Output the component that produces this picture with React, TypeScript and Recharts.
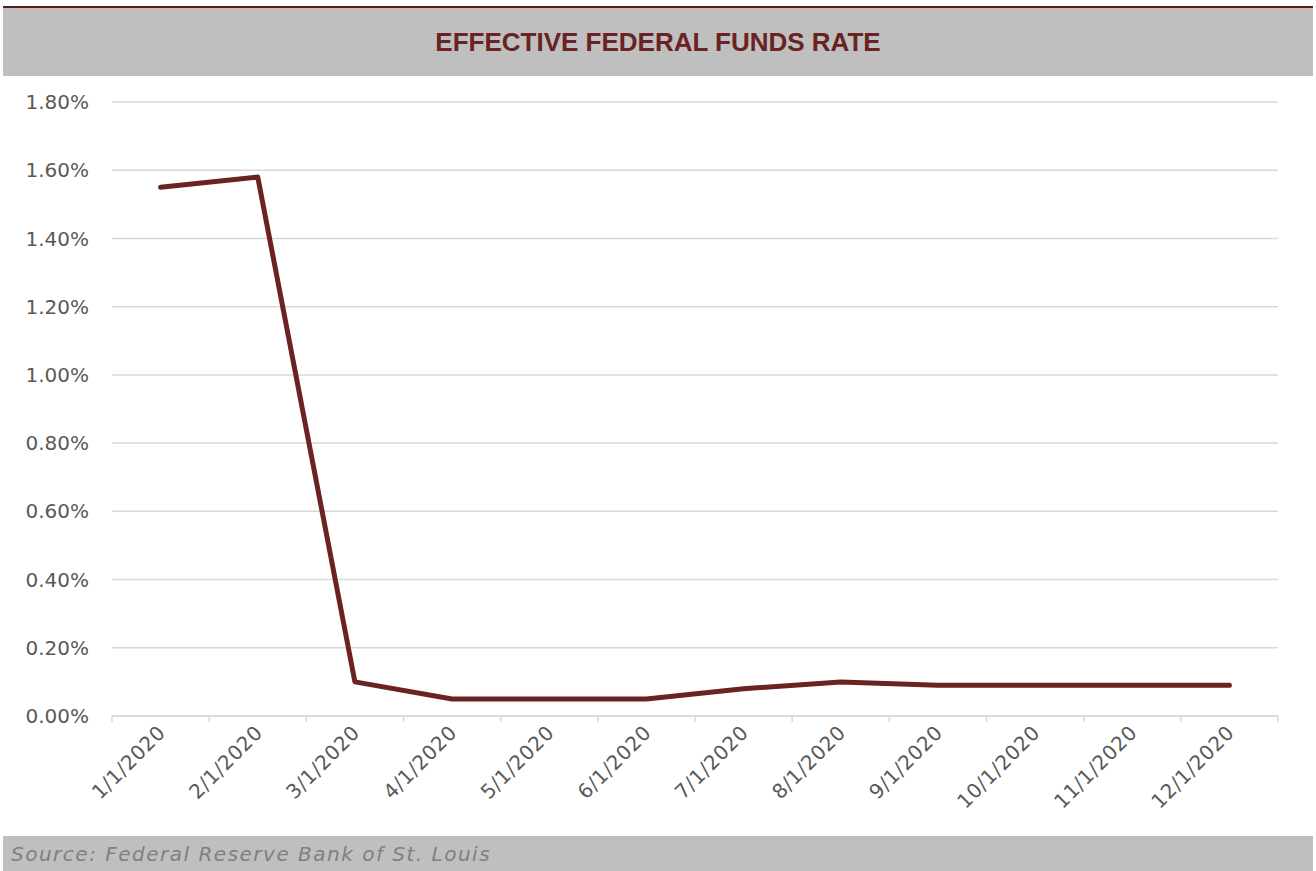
import { LineChart, Line, XAxis, YAxis, CartesianGrid } from "recharts";

const MONTHS = [
  "1/1/2020",
  "2/1/2020",
  "3/1/2020",
  "4/1/2020",
  "5/1/2020",
  "6/1/2020",
  "7/1/2020",
  "8/1/2020",
  "9/1/2020",
  "10/1/2020",
  "11/1/2020",
  "12/1/2020",
];

// effective rate in percent
const RATES = [1.55, 1.58, 0.1, 0.05, 0.05, 0.05, 0.08, 0.1, 0.09, 0.09, 0.09, 0.09];

const Y_TICKS = [0, 0.2, 0.4, 0.6, 0.8, 1.0, 1.2, 1.4, 1.6, 1.8];

const data = MONTHS.map((month, i) => ({ month, rate: RATES[i] }));

const LABEL_FONT = "'DejaVu Sans', sans-serif";
const MAROON = "#6b2222";
const GRID = "#d9d9d9";
const HALF_BAND = 1166 / MONTHS.length / 2;

interface TickProps {
  x?: number;
  y?: number;
  index?: number;
  payload?: { value: string };
}

// label plus the small marks on the category boundaries (Excel style)
function MonthTick({ x = 0, y = 0, index = 0, payload }: TickProps) {
  const tx = x + 6;
  const ty = y + 10;
  const last = index === MONTHS.length - 1;
  return (
    <g>
      <line x1={x - HALF_BAND} x2={x - HALF_BAND} y1={y - 8} y2={y - 2} stroke={GRID} strokeWidth={1.5} />
      {last && (
        <line x1={x + HALF_BAND} x2={x + HALF_BAND} y1={y - 8} y2={y - 2} stroke={GRID} strokeWidth={1.5} />
      )}
      <text
        x={tx}
        y={ty}
        transform={`rotate(-45, ${tx}, ${ty})`}
        textAnchor="end"
        fontSize={20}
        letterSpacing={0.5}
        fontFamily={LABEL_FONT}
        fill="#595959"
      >
        {payload?.value}
      </text>
    </g>
  );
}

export default function App() {
  return (
    <div
      style={{
        position: "absolute",
        left: 0,
        top: 0,
        width: 1316,
        height: 871,
        background: "#fff",
        overflow: "hidden",
      }}
    >
      <div
        style={{
          position: "absolute",
          left: 3,
          top: 6,
          width: 1310,
          height: 3,
          background: "#5c1c1c",
        }}
      />
      <div
        style={{
          position: "absolute",
          left: 3,
          top: 8,
          width: 1310,
          height: 68,
          background: "#bfbfbf",
          display: "flex",
          alignItems: "center",
          justifyContent: "center",
          color: MAROON,
          fontFamily: "'Liberation Sans Narrow', 'Arial Narrow', sans-serif",
          fontWeight: 700,
          fontSize: 26,
        }}
      >
        EFFECTIVE FEDERAL FUNDS RATE
      </div>

      <div style={{ position: "absolute", left: 0, top: 0 }}>
        <LineChart
          width={1316}
          height={836}
          data={data}
          margin={{ top: 102, right: 38, left: 12, bottom: 10 }}
        >
          <CartesianGrid vertical={false} stroke={GRID} strokeWidth={1.5} />
          <XAxis
            dataKey="month"
            interval={0}
            height={110}
            stroke={GRID}
            strokeWidth={1.5}
            tickLine={false}
            padding={{ left: HALF_BAND, right: HALF_BAND }}
            tick={<MonthTick />}
          />
          <YAxis
            width={100}
            domain={[0, 1.8]}
            ticks={Y_TICKS}
            axisLine={false}
            tickLine={false}
            tickMargin={17}
            tickFormatter={(v: number) => `${v.toFixed(2)}%`}
            tick={{ fontSize: 20, fontFamily: LABEL_FONT, fill: "#595959" }}
          />
          <Line
            dataKey="rate"
            type="linear"
            stroke={MAROON}
            strokeWidth={5}
            strokeLinecap="round"
            strokeLinejoin="round"
            dot={false}
            isAnimationActive={false}
          />
        </LineChart>
      </div>

      <div
        style={{
          position: "absolute",
          left: 3,
          top: 836,
          width: 1310,
          height: 35,
          background: "#bfbfbf",
          display: "flex",
          alignItems: "center",
          paddingLeft: 8,
          boxSizing: "border-box",
          color: "#808080",
          fontFamily: LABEL_FONT,
          fontStyle: "italic",
          fontSize: 20,
          letterSpacing: 1.5,
        }}
      >
        Source: Federal Reserve Bank of St. Louis
      </div>
    </div>
  );
}
